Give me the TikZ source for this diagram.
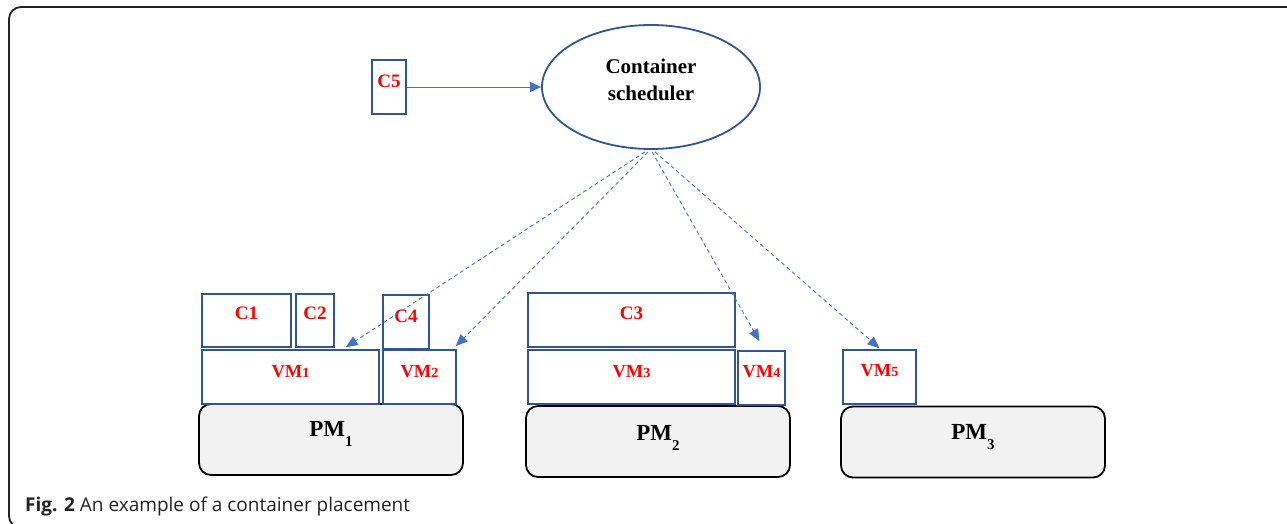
\documentclass[tikz,border=0pt]{standalone}
\usepackage{fontspec}
\setmainfont{Liberation Serif}
\newfontfamily\capfont{Open Sans}
\usetikzlibrary{arrows.meta,shapes.geometric}
\definecolor{boxblue}{HTML}{2F5597}
\definecolor{arrblue}{HTML}{4472C4}
\definecolor{pmgray}{HTML}{F2F2F2}
\definecolor{lblred}{HTML}{FF0000}
\definecolor{framegray}{HTML}{222222}
\newcommand{\vmsub}[1]{{\fontsize{14}{14}\selectfont #1}}
\newcommand{\pmsub}[1]{\raisebox{-10pt}{\fontsize{15}{15}\selectfont #1}}
\begin{document}
\begin{tikzpicture}[x=1pt,y=-1pt,
  blk/.style={draw=boxblue,line width=1.5pt,inner sep=0pt,rectangle},
  ctxt/.style={font=\bfseries\fontsize{19}{19}\selectfont,text=lblred,inner sep=0pt},
  vtxt/.style={font=\bfseries\fontsize{18.5}{18.5}\selectfont,text=lblred,inner sep=0pt},
  pm/.style={draw=black,line width=1.8pt,fill=pmgray,rounded corners=12pt,inner sep=0pt,rectangle,
             minimum width=264pt,minimum height=71pt},
  ptxt/.style={font=\bfseries\fontsize{23}{23}\selectfont,text=black,inner sep=0pt},
  place/.style={draw=arrblue,line width=0.9pt,dash pattern=on 4pt off 3pt,
                -{Triangle[length=12pt,width=10pt]}},
  feed/.style={draw=arrblue,line width=0.9pt,-{Triangle[length=11pt,width=10pt]}}]
\useasboundingbox (0,0) rectangle (1287,524);
% outer frame
\draw[framegray,line width=1.8pt,rounded corners=12pt] (9,7) rectangle (1310,528);

% scheduler and incoming container
\node[ellipse,draw=boxblue,line width=1.8pt,minimum width=218pt,minimum height=124pt,inner sep=0pt,
      label={[font=\bfseries\fontsize{21}{27}\selectfont,align=center,yshift=7pt]center:Container\\scheduler}]
      (sched) at (651,87) {};
\node[blk,minimum width=34pt,minimum height=54pt,label={[ctxt,yshift=6pt]center:C5}] (c5) at (389,87) {};
\draw[feed] (c5.east) -- (sched.west);

% PM1 with VM1, VM2 and containers C1, C2, C4
\node[pm,label={[ptxt,yshift=6pt]center:PM\pmsub{1}}] (pm1) at (331,439.5) {};
\node[blk,minimum width=177pt,minimum height=54pt,label={[vtxt,yshift=5pt]center:VM\vmsub{1}}] (vm1) at (290.5,377) {};
\node[blk,minimum width=73pt,minimum height=54pt,label={[vtxt,yshift=5pt]center:VM\vmsub{2}}] (vm2) at (419.5,377) {};
\node[blk,minimum width=89pt,minimum height=53pt,label={[ctxt,yshift=7pt]center:C1}] (c1) at (246.5,320.5) {};
\node[blk,minimum width=38pt,minimum height=53pt,label={[ctxt,yshift=7pt]center:C2}] (c2) at (315,320.5) {};
\node[blk,minimum width=46pt,minimum height=54pt,label={[ctxt,yshift=6pt]center:C4}] (c4) at (406,322) {};

% PM2 with VM3, VM4 and container C3
\node[pm,label={[ptxt,yshift=4pt]center:PM\pmsub{2}}] (pm2) at (658,441.5) {};
\node[blk,minimum width=207pt,minimum height=54pt,label={[vtxt,yshift=5pt]center:VM\vmsub{3}}] (vm3) at (631.5,377) {};
\node[blk,minimum width=47pt,minimum height=54pt,label={[vtxt,yshift=6pt]center:VM\vmsub{4}}] (vm4) at (761.5,378) {};
\node[blk,minimum width=207pt,minimum height=54pt,label={[ctxt,yshift=7pt]center:C3}] (c3) at (631.5,320) {};

% PM3 with VM5
\node[pm,label={[ptxt,yshift=5pt]center:PM\pmsub{3}}] (pm3) at (973,442) {};
\node[blk,minimum width=73pt,minimum height=54pt,label={[vtxt,yshift=6pt]center:VM\vmsub{5}}] (vm5) at (879.5,377) {};

% placement decisions
\draw[place] ([xshift=-6pt,yshift=-2pt]sched.south) -- ([xshift=-34pt,yshift=2pt]vm1.north east);
\draw[place] ([xshift=-3pt,yshift=-2pt]sched.south) -- ([xshift=-1pt,yshift=3pt]vm2.north east);
\draw[place] ([xshift=1pt,yshift=-2pt]sched.south) -- ([xshift=-2pt,yshift=9pt]vm4.north);
\draw[place] ([xshift=4pt,yshift=-2pt]sched.south) -- ([yshift=1pt]vm5.north);

% caption
\node[anchor=base west,inner sep=0pt,text=framegray,font=\capfont\fontsize{19}{19}\selectfont] (cap) at (25,511)
  {\textbf{Fig. 2} An example of a container placement};
\end{tikzpicture}
\end{document}
